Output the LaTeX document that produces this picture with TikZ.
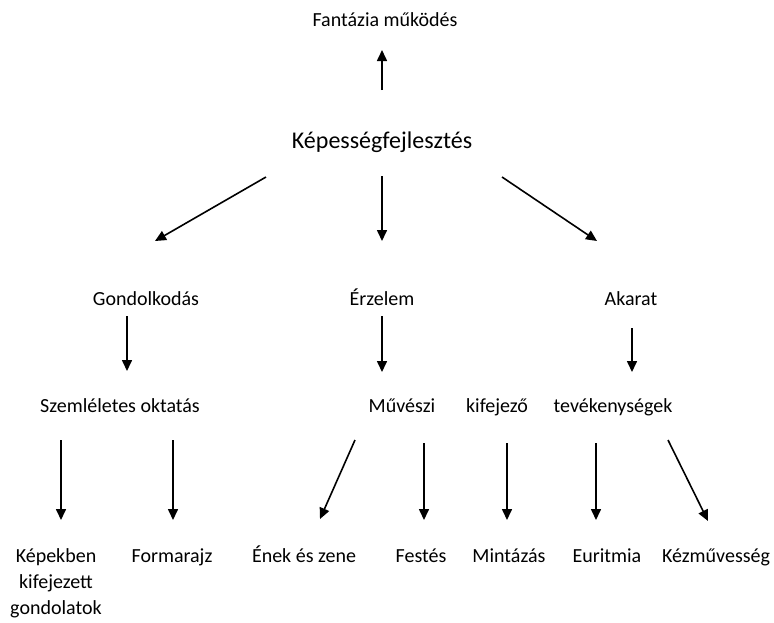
\documentclass[tikz,border=0pt]{standalone}
\usepackage{fontspec}
\setmainfont{Carlito}
\usetikzlibrary{arrows.meta}

\begin{document}
\begin{tikzpicture}[x=1pt,y=-1pt,
  lbl/.style={inner sep=0pt,anchor=base,font=\fontsize{20}{26}\selectfont,align=center},
  arr/.style={line width=1.6pt,-{Triangle[width=10pt,length=11pt]}}]
\useasboundingbox (0,0) rectangle (774,622);

% szovegek
\node[lbl] (fant) at (385,26) {Fantázia működés};
\node[lbl,font=\fontsize{24}{29}\selectfont] (kep) at (382,148) {Képességfejlesztés};

\node[lbl] (gond) at (146,305) {Gondolkodás};
\node[lbl] (erz) at (382,305) {Érzelem};
\node[lbl] (akar) at (631,305) {Akarat};

\node[lbl] (szem) at (120,412) {Szemléletes oktatás};
\node[lbl] (muv) at (402,412) {Művészi};
\node[lbl] (kif) at (497,412) {kifejező};
\node[lbl] (tev) at (613,412) {tevékenységek};

% tobbsoros: az utolso sor alapvonala
\node[lbl] (kepek) at (56,614) {Képekben\\kifejezett\\gondolatok};
\node[lbl] (forma) at (172,562) {Formarajz};
\node[lbl] (enek) at (304,562) {Ének és zene};
\node[lbl] (fest) at (421,562) {Festés};
\node[lbl] (mint) at (509,562) {Mintázás};
\node[lbl] (eur) at (607,562) {Euritmia};
\node[lbl] (kezm) at (716,562) {Kézművesség};

% nyilak vegpontjai
\coordinate (a1) at (382,90);  \coordinate (b1) at (382,50);
\coordinate (a2) at (266,177); \coordinate (b2) at (155,241);
\coordinate (a3) at (382,176); \coordinate (b3) at (382,241);
\coordinate (a4) at (502,177); \coordinate (b4) at (597,241);
\coordinate (a5) at (127,316); \coordinate (b5) at (127,371);
\coordinate (a6) at (382,316); \coordinate (b6) at (382,372);
\coordinate (a7) at (632,328); \coordinate (b7) at (632,372);
\coordinate (a8) at (61,440);  \coordinate (b8) at (61,520);
\coordinate (a9) at (173,440); \coordinate (b9) at (173,520);
\coordinate (a10) at (355,440); \coordinate (b10) at (320,519);
\coordinate (a11) at (424,443); \coordinate (b11) at (424,520);
\coordinate (a12) at (507,443); \coordinate (b12) at (507,520);
\coordinate (a13) at (596,443); \coordinate (b13) at (596,520);
\coordinate (a14) at (668,440); \coordinate (b14) at (708,521);

\foreach \i in {1,...,14}
  \draw[arr] (a\i) -- (b\i);
\end{tikzpicture}
\end{document}
